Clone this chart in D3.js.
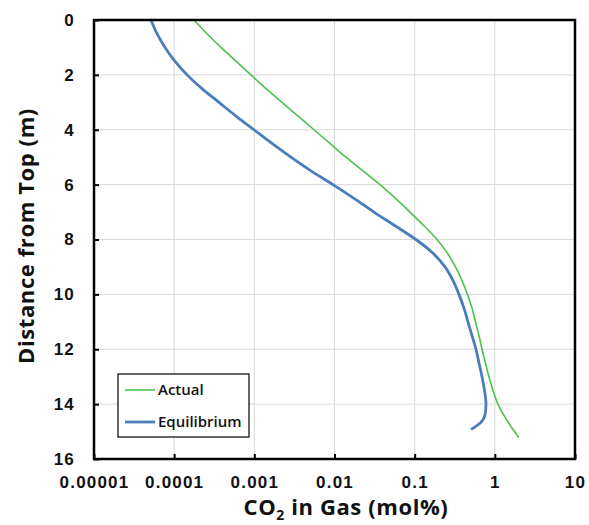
<!DOCTYPE html>
<html lang="en">
  <head>
    <meta charset="UTF-8" />
    <title>CO2 in Gas vs Distance from Top</title>
    <script src="https://d3js.org/d3.v7.min.js"></script>
    <style>
      body { margin: 0; background: #fff; }
      svg { display: block; font-family: 'Open Sans', 'Liberation Sans', sans-serif; }
      .tick-label { font-size: 17px; font-weight: 700; fill: #111; letter-spacing: 1.2px; }
      .axis-title { font-size: 22px; font-weight: 700; fill: #111; letter-spacing: 0.6px; }
      .legend-text { font-size: 15px; font-weight: 600; fill: #111; }
    </style>
  </head>
  <body>
    <div id="chart"></div>
    <script>
      // depth (m) vs CO2 mol%
      const actualDepth = [0, 0.5, 1, 1.5, 2, 2.5, 3, 3.5, 4, 4.5, 5, 5.5, 6, 6.5, 7, 7.5, 8, 8.5, 9, 9.5, 10,
        10.5, 11, 11.5, 12, 12.5, 13, 13.5, 14, 14.5, 15, 15.2];
      const actualCO2 = [0.000177, 0.000257, 0.000384, 0.00059, 0.000908, 0.0014, 0.00221, 0.00351, 0.00555,
        0.00879, 0.0139, 0.0226, 0.0369, 0.0577, 0.0875, 0.1306, 0.1897, 0.2565, 0.323, 0.389, 0.456,
        0.519, 0.574, 0.634, 0.692, 0.764, 0.845, 0.948, 1.094, 1.358, 1.758, 1.972];

      const eqDepth = [0, 0.5, 1, 1.5, 2, 2.5, 3, 3.5, 4, 4.5, 5, 5.5, 6, 6.5, 7, 7.5, 8, 8.5, 9, 9.5, 10,
        10.5, 11, 11.5, 12, 12.5, 13, 13.5, 14, 14.4, 14.7, 14.9];
      const eqCO2 = [0.0000514, 0.0000611, 0.0000769, 0.000102, 0.000145, 0.000222, 0.000362, 0.00059, 0.00099,
        0.00166, 0.00286, 0.00509, 0.00957, 0.0175, 0.0311, 0.0569, 0.1038, 0.1694, 0.239, 0.301, 0.357,
        0.412, 0.462, 0.519, 0.582, 0.634, 0.692, 0.743, 0.776, 0.753, 0.653, 0.519];

      const xTicks = [0.00001, 0.0001, 0.001, 0.01, 0.1, 1, 10];
      const xTickLabels = ['0.00001', '0.0001', '0.001', '0.01', '0.1', '1', '10'];
      const yTicks = [0, 2, 4, 6, 8, 10, 12, 14, 16];

      const series = [
        { name: 'Actual', depth: actualDepth, co2: actualCO2, color: '#4cc24c', width: 1.6 },
        { name: 'Equilibrium', depth: eqDepth, co2: eqCO2, color: '#4a7ebb', width: 2.8 }
      ];

      const W = 589, H = 525;
      const margin = { top: 20, right: 14, bottom: 66, left: 94 };
      const width = W - margin.left - margin.right;
      const height = H - margin.top - margin.bottom;

      const svg = d3.select('#chart').append('svg').attr('width', W).attr('height', H);
      const g = svg.append('g').attr('transform', `translate(${margin.left},${margin.top})`);

      const x = d3.scaleLog().domain([0.00001, 10]).range([0, width]);
      const y = d3.scaleLinear().domain([0, 16]).range([0, height]);

      // grid
      g.append('g').selectAll('line').data(xTicks).join('line')
        .attr('x1', d => x(d)).attr('x2', d => x(d))
        .attr('y1', 0).attr('y2', height)
        .attr('stroke', '#d9d9d9').attr('stroke-width', 1);
      g.append('g').selectAll('line').data(yTicks).join('line')
        .attr('x1', 0).attr('x2', width)
        .attr('y1', d => y(d)).attr('y2', d => y(d))
        .attr('stroke', '#d9d9d9').attr('stroke-width', 1);

      // lines (x is a function of depth, so smooth along y)
      const line = d3.line().curve(d3.curveMonotoneY);
      series.forEach(s => {
        const pts = s.depth.map((d, i) => [x(s.co2[i]), y(d)]);
        g.append('path')
          .attr('d', line(pts))
          .attr('fill', 'none')
          .attr('stroke', s.color)
          .attr('stroke-width', s.width)
          .attr('stroke-linecap', 'round')
          .attr('stroke-linejoin', 'round');
      });

      // frame
      g.append('rect')
        .attr('width', width).attr('height', height)
        .attr('fill', 'none').attr('stroke', '#000').attr('stroke-width', 2.5);

      // axes
      const xAxis = g.append('g')
        .attr('transform', `translate(0,${height})`)
        .call(d3.axisBottom(x).tickValues(xTicks).tickFormat((d, i) => xTickLabels[i]).tickSizeInner(-5).tickSizeOuter(0).tickPadding(17));
      xAxis.select('.domain').remove();
      xAxis.selectAll('line').attr('stroke', '#000').attr('stroke-width', 2);
      xAxis.selectAll('text').attr('class', 'tick-label');

      const yAxis = g.append('g')
        .call(d3.axisLeft(y).tickValues(yTicks).tickSizeInner(-5).tickSizeOuter(0).tickPadding(19));
      yAxis.select('.domain').remove();
      yAxis.selectAll('line').attr('stroke', '#000').attr('stroke-width', 2);
      yAxis.selectAll('text').attr('class', 'tick-label');

      // axis titles
      const xt = svg.append('text').attr('class', 'axis-title')
        .attr('x', 346).attr('y', 515).attr('text-anchor', 'middle');
      xt.append('tspan').text('CO');
      xt.append('tspan').text('2').attr('font-size', '14px').attr('dy', 5);
      xt.append('tspan').text(' in Gas (mol%)').attr('dy', -5);

      svg.append('text').attr('class', 'axis-title')
        .attr('transform', 'translate(34,236) rotate(-90)')
        .attr('text-anchor', 'middle')
        .text('Distance from Top (m)');

      // legend
      const lg = svg.append('g').attr('transform', 'translate(118,374)');
      lg.append('rect').attr('width', 131).attr('height', 63)
        .attr('fill', '#fff').attr('stroke', '#000').attr('stroke-width', 1.2);
      series.forEach((s, i) => {
        const ly = 16 + i * 32;
        lg.append('line').attr('x1', 7).attr('x2', 37).attr('y1', ly).attr('y2', ly)
          .attr('stroke', s.color).attr('stroke-width', s.width);
        lg.append('text').attr('class', 'legend-text')
          .attr('x', 40).attr('y', ly + 5).text(s.name);
      });
    </script>
  </body>
</html>
